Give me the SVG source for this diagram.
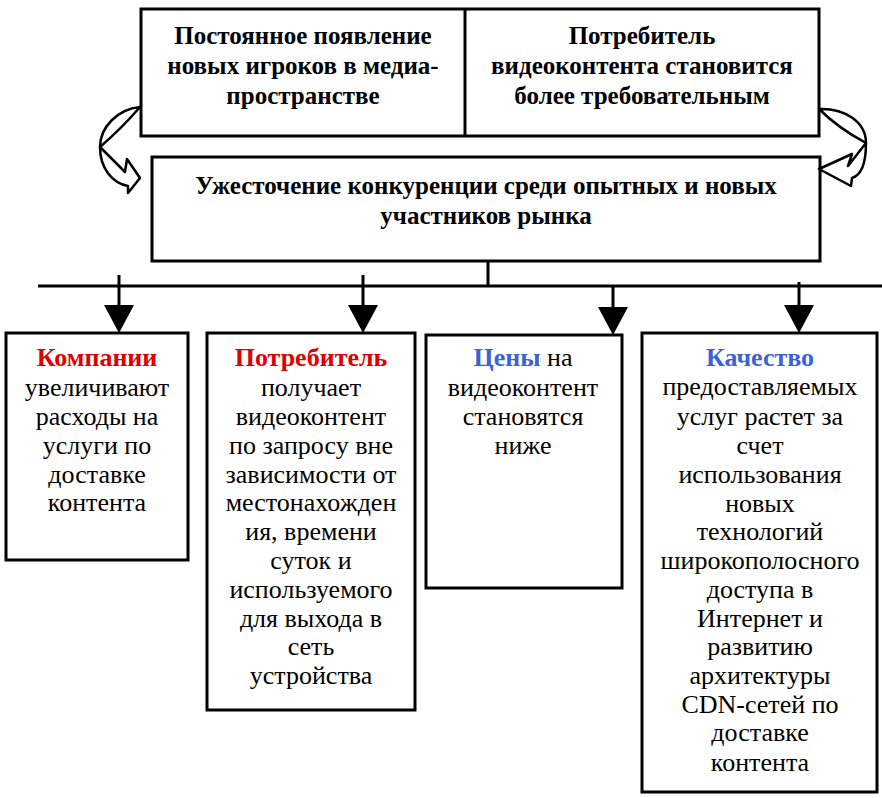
<svg xmlns="http://www.w3.org/2000/svg" width="882" height="798" viewBox="0 0 882 798">
<rect width="882" height="798" fill="#fff"/>
<g id="box-companies">
<rect x="6" y="333" width="182" height="227" fill="#fff" stroke="#000" stroke-width="3"/>
<text x="97" y="396" font-family="Liberation Serif" font-size="26" text-anchor="middle">увеличивают</text>
<text x="97" y="425" font-family="Liberation Serif" font-size="26" text-anchor="middle">расходы на</text>
<text x="97" y="454" font-family="Liberation Serif" font-size="26" text-anchor="middle">услуги по</text>
<text x="97" y="483" font-family="Liberation Serif" font-size="26" text-anchor="middle">доставке</text>
<text x="97" y="511" font-family="Liberation Serif" font-size="26" text-anchor="middle">контента</text>
<text x="97" y="366" font-family="Liberation Serif" font-size="26" text-anchor="middle" font-weight="bold" fill="#e00000">Компании</text>
</g>
<g id="box-consumer">
<rect x="207" y="333" width="208" height="377" fill="#fff" stroke="#000" stroke-width="3"/>
<text x="311" y="396" font-family="Liberation Serif" font-size="26" text-anchor="middle">получает</text>
<text x="311" y="425" font-family="Liberation Serif" font-size="26" text-anchor="middle">видеоконтент</text>
<text x="311" y="454" font-family="Liberation Serif" font-size="26" text-anchor="middle">по запросу вне</text>
<text x="311" y="483" font-family="Liberation Serif" font-size="26" text-anchor="middle">зависимости от</text>
<text x="311" y="511" font-family="Liberation Serif" font-size="26" text-anchor="middle">местонахожден</text>
<text x="311" y="540" font-family="Liberation Serif" font-size="26" text-anchor="middle">ия, времени</text>
<text x="311" y="569" font-family="Liberation Serif" font-size="26" text-anchor="middle">суток и</text>
<text x="311" y="598" font-family="Liberation Serif" font-size="26" text-anchor="middle">используемого</text>
<text x="311" y="627" font-family="Liberation Serif" font-size="26" text-anchor="middle">для выхода в</text>
<text x="311" y="655" font-family="Liberation Serif" font-size="26" text-anchor="middle">сеть</text>
<text x="311" y="684" font-family="Liberation Serif" font-size="26" text-anchor="middle">устройства</text>
<text x="311" y="366" font-family="Liberation Serif" font-size="26" text-anchor="middle" font-weight="bold" fill="#e00000">Потребитель</text>
</g>
<g id="box-prices">
<rect x="426" y="335" width="196" height="253" fill="#fff" stroke="#000" stroke-width="3"/>
<text x="523" y="396" font-family="Liberation Serif" font-size="26" text-anchor="middle">видеоконтент</text>
<text x="523" y="425" font-family="Liberation Serif" font-size="26" text-anchor="middle">становятся</text>
<text x="523" y="454" font-family="Liberation Serif" font-size="26" text-anchor="middle">ниже</text>
<text x="523" y="366" font-family="Liberation Serif" font-size="26" text-anchor="middle"><tspan font-weight="bold" fill="#3a63d8">Цены</tspan> на</text>
</g>
<g id="box-quality">
<rect x="642" y="333" width="235" height="459" fill="#fff" stroke="#000" stroke-width="3"/>
<text x="760" y="395" font-family="Liberation Serif" font-size="26" text-anchor="middle">предоставляемых</text>
<text x="760" y="425" font-family="Liberation Serif" font-size="26" text-anchor="middle">услуг растет за</text>
<text x="760" y="454" font-family="Liberation Serif" font-size="26" text-anchor="middle">счет</text>
<text x="760" y="483" font-family="Liberation Serif" font-size="26" text-anchor="middle">использования</text>
<text x="760" y="512" font-family="Liberation Serif" font-size="26" text-anchor="middle">новых</text>
<text x="760" y="540" font-family="Liberation Serif" font-size="26" text-anchor="middle">технологий</text>
<text x="760" y="569" font-family="Liberation Serif" font-size="26" text-anchor="middle">широкополосного</text>
<text x="760" y="598" font-family="Liberation Serif" font-size="26" text-anchor="middle">доступа в</text>
<text x="760" y="627" font-family="Liberation Serif" font-size="26" text-anchor="middle">Интернет и</text>
<text x="760" y="655" font-family="Liberation Serif" font-size="26" text-anchor="middle">развитию</text>
<text x="760" y="684" font-family="Liberation Serif" font-size="26" text-anchor="middle">архитектуры</text>
<text x="760" y="713" font-family="Liberation Serif" font-size="26" text-anchor="middle">CDN-сетей по</text>
<text x="760" y="741" font-family="Liberation Serif" font-size="26" text-anchor="middle">доставке</text>
<text x="760" y="771" font-family="Liberation Serif" font-size="26" text-anchor="middle">контента</text>
<text x="760" y="366" font-family="Liberation Serif" font-size="26" text-anchor="middle" font-weight="bold" fill="#3a63d8">Качество</text>
</g>
<g id="top-box">
<rect x="141" y="9" width="678" height="127" fill="#fff" stroke="#000" stroke-width="3"/>
<line x1="465" y1="9" x2="465" y2="136" stroke="#000" stroke-width="3"/>
<text x="303" y="44" font-family="Liberation Serif" font-weight="bold" font-size="25" text-anchor="middle">Постоянное появление</text>
<text x="303" y="74" font-family="Liberation Serif" font-weight="bold" font-size="25" text-anchor="middle">новых игроков в медиа-</text>
<text x="303" y="104" font-family="Liberation Serif" font-weight="bold" font-size="25" text-anchor="middle">пространстве</text>
<text x="642" y="44" font-family="Liberation Serif" font-weight="bold" font-size="25" text-anchor="middle">Потребитель</text>
<text x="642" y="74" font-family="Liberation Serif" font-weight="bold" font-size="25" text-anchor="middle">видеоконтента становится</text>
<text x="642" y="104" font-family="Liberation Serif" font-weight="bold" font-size="25" text-anchor="middle">более требовательным</text>
</g>
<g id="middle-box">
<rect x="152" y="157" width="668" height="104" fill="#fff" stroke="#000" stroke-width="3"/>
<text x="486" y="194" font-family="Liberation Serif" font-weight="bold" font-size="25" text-anchor="middle">Ужесточение конкуренции среди опытных и новых</text>
<text x="486" y="224" font-family="Liberation Serif" font-weight="bold" font-size="25" text-anchor="middle">участников рынка</text>
</g>
<g id="curved-arrows" fill="#fff" stroke="#000" stroke-width="2.5" stroke-linejoin="round">
<path d="M140,107 C118,109 100,127 100,147 C100,168 112,183 128,186 L128,193 L140,178 L127,159 L125,172 L100,147 Q122,128 140,107 Z"/>
<path d="M819,109 C845,108 866,122 866,143 C866,163 862,175 852,178 L851,186 L819,169 L852,154 L848,166 L866,143 Q838,128 819,109 Z"/>
</g>
<g id="connectors" stroke="#000" stroke-width="3" fill="none">
<line x1="488" y1="261" x2="488" y2="286"/>
<line x1="38" y1="286" x2="882" y2="286"/>
<line x1="119" y1="275" x2="119" y2="306"/>
<line x1="363" y1="275" x2="363" y2="306"/>
<line x1="613" y1="286" x2="613" y2="308"/>
<line x1="799" y1="282" x2="799" y2="306"/>
<g fill="#000" stroke="none">
<polygon points="104,305 134,305 119,333"/>
<polygon points="348,305 378,305 363,333"/>
<polygon points="598,307 628,307 613,335"/>
<polygon points="784,305 814,305 799,333"/>
</g>
</g>
</svg>
